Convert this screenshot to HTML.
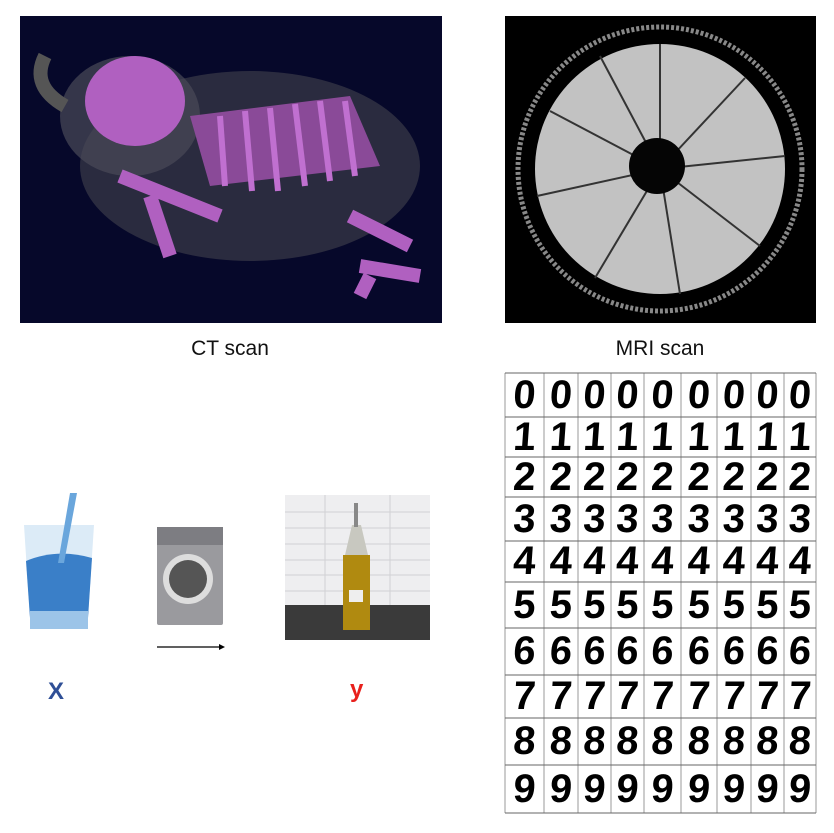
<!DOCTYPE html>
<html><head><meta charset="utf-8"><style>
body{margin:0;width:834px;height:833px;background:#fff;position:relative;overflow:hidden;font-family:"Liberation Sans",sans-serif}
.a{position:absolute}
.lbl{font-size:21px;color:#111;text-align:center}
.cell{position:absolute;font:bold 40px "Liberation Sans",sans-serif;color:#000;text-align:center;transform:skewX(-4deg)}
</style></head><body>
<svg class="a" style="left:20px;top:16px" width="422" height="307" viewBox="0 0 422 307">
<rect width="422" height="307" fill="#06082a"/>
<ellipse cx="230" cy="150" rx="170" ry="95" fill="#3a3a48" opacity="0.7"/>
<ellipse cx="110" cy="100" rx="70" ry="60" fill="#4a4a58" opacity="0.7"/>
<path d="M45 90 Q10 70 25 40" stroke="#555" stroke-width="14" fill="none"/>
<ellipse cx="115" cy="85" rx="50" ry="45" fill="#b060c0"/>
<path d="M170 100 L330 80 L360 150 L190 170Z" fill="#8a4a98"/>
<g stroke="#c070d0" stroke-width="6">
<line x1="200" y1="100" x2="205" y2="170"/><line x1="225" y1="95" x2="232" y2="175"/><line x1="250" y1="92" x2="258" y2="175"/><line x1="275" y1="88" x2="285" y2="170"/><line x1="300" y1="85" x2="310" y2="165"/><line x1="325" y1="85" x2="335" y2="160"/></g>
<path d="M100 160 L200 200 M130 180 L150 240 M330 200 L390 230 M340 250 L400 260 M350 260 L340 280" stroke="#b060c0" stroke-width="14" fill="none"/>
</svg>
<svg class="a" style="left:505px;top:16px" width="311" height="307" viewBox="0 0 311 307">
<rect width="311" height="307" fill="#000"/>
<circle cx="155" cy="153" r="142" fill="none" stroke="#888" stroke-width="5" stroke-dasharray="3 2"/>
<circle cx="155" cy="153" r="125" fill="#c2c2c2"/>
<g stroke="#333" stroke-width="2">
<line x1="155" y1="153" x2="155" y2="28"/><line x1="155" y1="153" x2="240" y2="62"/><line x1="155" y1="153" x2="280" y2="140"/><line x1="155" y1="153" x2="255" y2="230"/><line x1="155" y1="153" x2="175" y2="278"/><line x1="155" y1="153" x2="90" y2="262"/><line x1="155" y1="153" x2="32" y2="180"/><line x1="155" y1="153" x2="45" y2="95"/><line x1="155" y1="153" x2="95" y2="40"/></g>
<circle cx="152" cy="150" r="28" fill="#050505"/>
</svg>
<div class="a lbl" style="left:130px;top:337px;width:200px">CT scan</div>
<div class="a lbl" style="left:560px;top:337px;width:200px">MRI scan</div>
<svg class="a" style="left:22px;top:493px" width="80" height="140" viewBox="0 0 80 140">
<path d="M2 32 L72 32 L66 125 L8 125Z" fill="#dcebf7"/>
<path d="M4 68 Q35 55 70 65 L66 125 L8 125Z" fill="#3a7fc8"/>
<path d="M48 0 L55 0 L42 70 L36 70Z" fill="#6aa6dc"/>
<rect x="8" y="118" width="58" height="18" fill="#9cc4e8"/>
</svg>
<svg class="a" style="left:157px;top:527px" width="66" height="98" viewBox="0 0 66 98">
<rect width="66" height="98" rx="2" fill="#9a9a9e"/>
<rect x="0" y="0" width="66" height="18" fill="#7d7d82"/>
<circle cx="31" cy="52" r="25" fill="#ddd"/><circle cx="31" cy="52" r="19" fill="#555"/>
</svg>
<svg class="a" style="left:155px;top:641px" width="72" height="12"><line x1="2" y1="6" x2="64" y2="6" stroke="#000" stroke-width="1.2"/><path d="M64 3 L70 6 L64 9Z" fill="#000"/></svg>
<svg class="a" style="left:285px;top:495px" width="145" height="145" viewBox="0 0 145 145">
<rect width="145" height="110" fill="#eeeef0"/>
<g stroke="#d0d0d4"><line x1="0" y1="17" x2="145" y2="17"/><line x1="0" y1="33" x2="145" y2="33"/><line x1="0" y1="49" x2="145" y2="49"/><line x1="0" y1="65" x2="145" y2="65"/><line x1="0" y1="80" x2="145" y2="80"/><line x1="0" y1="96" x2="145" y2="96"/><line x1="40" y1="0" x2="40" y2="110"/><line x1="105" y1="0" x2="105" y2="110"/></g>
<rect y="110" width="145" height="35" fill="#3a3a3a"/>
<rect x="58" y="60" width="27" height="75" fill="#b08a10"/>
<path d="M60 60 L67 30 L76 30 L83 60Z" fill="#c8c8c0"/>
<rect x="69" y="8" width="4" height="24" fill="#888"/>
<rect x="64" y="95" width="14" height="12" fill="#eee"/>
</svg>
<div class="a" style="left:48px;top:678px;font-size:24px;font-weight:bold;color:#2f4f96">X</div>
<div class="a" style="left:350px;top:676px;font-size:24px;font-weight:bold;color:#e8201c">y</div>
<div class="a" id="grid" style="left:0;top:0"></div>
<script>
const colX=[505,544,578,611,644,681,717,751,784,816];
const rowY=[373,417,457,497,541,582,628,675,718,765,813];
const g=document.getElementById('grid');
let svg='<svg class="a" style="left:0;top:0" width="834" height="833">';
colX.forEach(x=>svg+=`<line x1="${x}" y1="373" x2="${x}" y2="813" stroke="#999" stroke-width="1"/>`);
rowY.forEach(y=>svg+=`<line x1="505" y1="${y}" x2="816" y2="${y}" stroke="#666" stroke-width="1"/>`);
svg+='</svg>';
g.innerHTML=svg;
for(let r=0;r<10;r++)for(let c=0;c<9;c++){
 const d=document.createElement('div');
 d.className='cell';
 
 
 const h=rowY[r+1]-rowY[r];
 d.style.left=colX[c]+'px';d.style.top=rowY[r]+'px';
 d.style.width=(colX[c+1]-colX[c])+'px';d.style.height=h+'px';
 d.style.lineHeight=h+'px';
 d.textContent=r;
 g.appendChild(d);
}
</script>
</body></html>
